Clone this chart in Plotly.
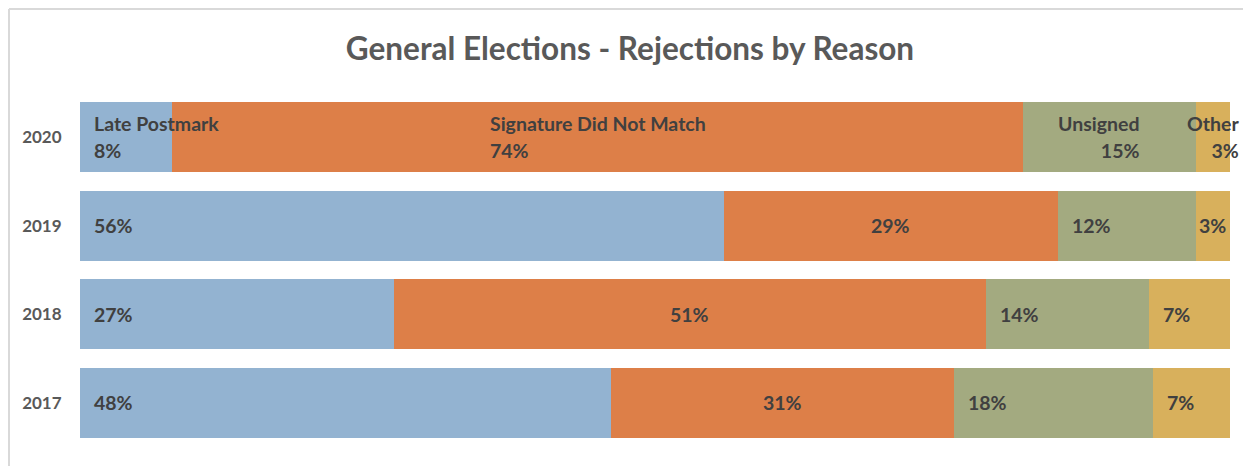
import plotly.graph_objects as go

# Rejection reasons, share of rejected ballots (%) per general election
years = ["2020", "2019", "2018", "2017"]
reasons = ["Late Postmark", "Signature Did Not Match", "Unsigned", "Other"]
late_postmark = [8, 56, 27, 48]
signature_mismatch = [74, 29, 51, 31]
unsigned = [15, 12, 14, 18]
other = [3, 3, 7, 7]

colors = ["#93B3D1", "#DD7F48", "#A3AA80", "#D8B05C"]
series = [late_postmark, signature_mismatch, unsigned, other]

FONT = "Lato"
LABEL_COLOR = "#404040"
LABEL_SIZE = 19.5
W, H = 1243, 466
M = dict(l=80, r=13, t=93, b=19)

# bottom-to-top order of the category axis
cat_order = years[::-1]

fig = go.Figure()
for name, vals, col in zip(reasons, series, colors):
    fig.add_trace(go.Bar(
        y=years, x=vals, name=name, orientation="h",
        marker=dict(color=col, line=dict(width=0)),
    ))

# Data labels, placed from the same normalized shares the bars use.
# Numeric-looking category names are addressed by their index on the axis.
annotations = []
for i, yr in enumerate(years):
    ypos = cat_order.index(yr)
    row = [s[i] for s in series]
    total = sum(row)
    start = 0.0
    for j, v in enumerate(row):
        share = v / total * 100.0
        end = start + share
        mid = (start + end) / 2
        if i == 0:
            # top row carries the reason name above the value
            if j == 0:
                x, xa, al, xs = start, "left", "left", 12
            elif j == 1:
                x, xa, al, xs = mid, "center", "left", 0
            elif j == 2:
                x, xa, al, xs = mid, "center", "right", -11
            else:
                x, xa, al, xs = mid, "center", "right", 0
            hidden = "<span style='color:rgba(0,0,0,0)'>%s</span>"
            for txt, ys in (
                ("%s<br>%s" % (reasons[j], hidden % f"{v}%"), 1),
                ("%s<br>%d%%" % (hidden % reasons[j], v), -1),
            ):
                annotations.append(dict(
                    x=x, y=ypos, xref="x", yref="y", text=txt, showarrow=False,
                    xanchor=xa, align=al, xshift=xs, yshift=ys,
                    font=dict(family=FONT, size=LABEL_SIZE, color=LABEL_COLOR, weight="bold"),
                ))
        else:
            if j == 1 or share < 5:
                x, xa, xs = mid, "center", 0
            else:
                x, xa, xs = start, "left", 12
            annotations.append(dict(
                x=x, y=ypos, xref="x", yref="y", text=f"{v}%", showarrow=False,
                xanchor=xa, xshift=xs,
                font=dict(family=FONT, size=LABEL_SIZE, color=LABEL_COLOR, weight="bold"),
            ))
        start = end

# Light chart-area frame along the top and left
pw = W - M["l"] - M["r"]
ph = H - M["t"] - M["b"]
def px_x(p):
    return (p - M["l"]) / pw
def px_y(p):
    return (H - M["b"] - p) / ph

shapes = [
    dict(type="line", xref="paper", yref="paper",
         x0=px_x(9), x1=px_x(W + 20), y0=px_y(9), y1=px_y(9),
         line=dict(color="#D9D9D9", width=2)),
    dict(type="line", xref="paper", yref="paper",
         x0=px_x(9), x1=px_x(9), y0=px_y(9), y1=px_y(H + 20),
         line=dict(color="#D9D9D9", width=2)),
]

fig.update_layout(
    barmode="stack",
    barnorm="percent",
    bargap=0.21,
    width=W, height=H,
    margin=M,
    paper_bgcolor="white",
    plot_bgcolor="white",
    showlegend=False,
    title=dict(
        text="General Elections - Rejections by Reason",
        x=630 / W, xref="container", xanchor="center",
        y=1 - 49 / H, yref="container", yanchor="middle",
        font=dict(family=FONT, size=31.5, color="#595959", weight="bold"),
    ),
    xaxis=dict(range=[0, 100], showticklabels=False, showgrid=False,
               zeroline=False, showline=False),
    yaxis=dict(type="category", categoryorder="array",
               categoryarray=cat_order, range=[-0.5, len(years) - 0.5],
               showgrid=False, zeroline=False, showline=False,
               ticks="outside", ticklen=14, tickcolor="rgba(0,0,0,0)",
               tickfont=dict(family=FONT, size=17, color="#595959", weight="bold")),
    annotations=annotations,
    shapes=shapes,
)

fig.write_html("out.html")
